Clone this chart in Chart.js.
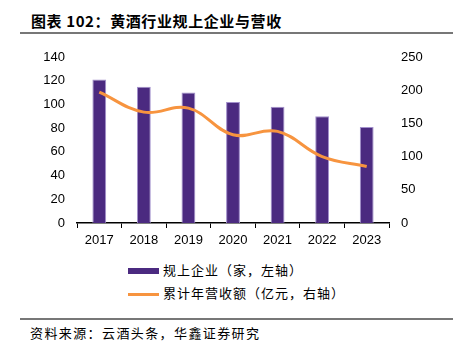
<!doctype html>
<html lang="zh">
<head>
<meta charset="utf-8">
<script src="https://cdn.jsdelivr.net/npm/chart.js@4.4.1/dist/chart.umd.min.js"></script>
<style>
  body { margin: 0; background: #fff; }
  #wrap { position: relative; width: 459px; height: 350px; overflow: hidden; font-family: "Noto Sans CJK SC", sans-serif; }
  .title { position: absolute; left: 31px; top: 11px; font-size: 15px; font-weight: bold; letter-spacing: 0.6px; line-height: 20px; color: #000; }
  .hr { position: absolute; left: 20px; width: 433px; height: 2px; background: #777; }
  #box { position: absolute; left: 0; top: 40px; width: 459px; height: 215px; }
  .leg { position: absolute; left: 128px; font-size: 13px; letter-spacing: 1px; line-height: 18px; color: #000; }
  .leg i { display: inline-block; width: 31px; vertical-align: middle; margin-right: 4px; }
  .src { position: absolute; left: 30px; top: 324px; font-size: 13px; letter-spacing: 1.4px; line-height: 18px; color: #000; }
</style>
</head>
<body>
<div id="wrap">
  <div class="title">图表 102：黄酒行业规上企业与营收</div>
  <div class="hr" style="top:32px"></div>
  <div id="box"><canvas id="c"></canvas></div>
  <div class="leg" style="top:261px"><i style="height:6px;background:#4b2a80"></i>规上企业（家，左轴）</div>
  <div class="leg" style="top:284px"><i style="height:3px;background:#f7943f"></i>累计年营收额（亿元，右轴）</div>
  <div class="hr" style="top:318px"></div>
  <div class="src">资料来源：云酒头条，华鑫证券研究</div>
</div>

<script>
var years = ["2017", "2018", "2019", "2020", "2021", "2022", "2023"];
var companies = [121, 115, 110, 102, 98, 90, 81];
var revenue = [197, 167, 173, 133, 138, 100, 85];

var tickFont = { family: "'Liberation Sans', Arial, sans-serif", size: 13 };

new Chart(document.getElementById("c"), {
    type: "bar",
    data: {
        labels: years,
        datasets: [{
            type: "line",
            label: "累计年营收额（亿元，右轴）",
            data: revenue,
            yAxisID: "y1",
            borderColor: "#f7943f",
            borderWidth: 3,
            pointRadius: 0,
            tension: 0.4,
            order: 0
        }, {
            label: "规上企业（家，左轴）",
            data: companies,
            yAxisID: "y",
            backgroundColor: "#4b2a80",
            borderColor: "#a290cc",
            borderWidth: 1,
            barPercentage: 0.31,
            categoryPercentage: 1,
            order: 1
        }]
    },
    options: {
        responsive: true,
        maintainAspectRatio: false,
        animation: false,
        layout: { padding: { top: 17, left: 0, right: 0, bottom: 0 } },
        plugins: { legend: { display: false }, tooltip: { enabled: false } },
        scales: {
            x: {
                offset: true,
                grid: { offset: true, drawOnChartArea: false, tickLength: 5, color: "#000" },
                border: { display: true, color: "#000", width: 1.5 },
                ticks: { color: "#000", font: tickFont, padding: 5, maxRotation: 0 },
                afterFit: function (s) { s.height = 32; }
            },
            y: {
                position: "left",
                min: 0, max: 140,
                grid: { display: false },
                border: { display: false },
                ticks: { stepSize: 20, color: "#000", font: tickFont, padding: 4 },
                afterFit: function (s) { s.width = 77; }
            },
            y1: {
                position: "right",
                min: 0, max: 250,
                grid: { display: false },
                border: { display: false },
                ticks: { stepSize: 50, color: "#000", font: tickFont, padding: 4 },
                afterFit: function (s) { s.width = 70; }
            }
        }
    }
});
</script>
</body>
</html>
